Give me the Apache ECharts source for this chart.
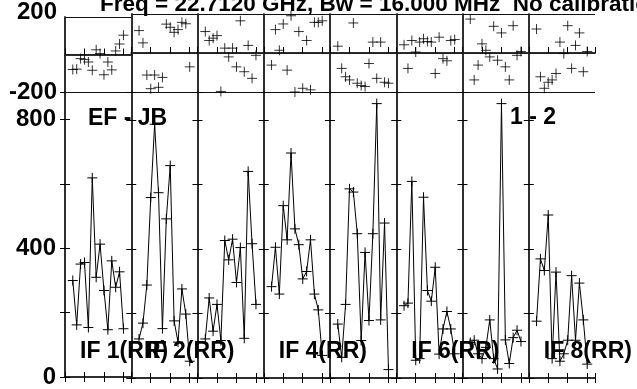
<!DOCTYPE html>
<html><head><meta charset="utf-8">
<script src="https://cdn.jsdelivr.net/npm/echarts@6/dist/echarts.min.js"></script>
<style>html,body{margin:0;padding:0;background:#fff;overflow:hidden}#c{width:637px;height:389px}</style>
</head><body><div id="c"></div>
<script>
// ---- data ----
const channels = [2, 3, 4, 5, 6, 7, 8, 9, 10, 11, 12, 13, 14, 15];
const ifNames = ['IF 1(RR)', 'IF 2(RR)', 'IF 3(RR)', 'IF 4(RR)', 'IF 5(RR)', 'IF 6(RR)', 'IF 7(RR)', 'IF 8(RR)'];
const ifLabelShown = [true, true, false, true, false, true, false, true];

const ampIF1 = [300, 162, 351, 356, 154, 619, 310, 413, 269, 147, 361, 279, 327, 150];
const ampIF2 = [121, 170, 288, 559, 786, 574, 153, 493, 658, 177, 111, 276, 198, 52];
const ampIF3 = [121, 248, 145, 228, 116, 426, 366, 430, 296, 404, 123, 640, 416, 228];
const ampIF4 = [283, 405, 260, 534, 428, 697, 462, 413, 307, 330, 428, 260, 211, 70];
const ampIF5 = [167, 64, 228, 586, 576, 447, 116, 389, 178, 447, 850, 180, 480, 26];
const ampIF6 = [224, 232, 609, 55, 60, 560, 271, 238, 343, 74, 152, 206, 152, 75];
const ampIF7 = [110, 117, 75, 60, 95, 180, 60, 28, 850, 118, 45, 125, 148, 113];
const ampIF8 = [176, 369, 333, 505, 60, 328, 52, 75, 117, 317, 117, 294, 180, 43];

const phaseIF1 = [-80, -78, -22, -27, -40, -84, 25, 5, -108, -40, -82, 19, 56, 103];
const phaseIF2 = [115, 52, -113, -183, -113, -176, -125, 148, 132, 106, 120, 157, 150, -71];
const phaseIF3 = [110, 64, 76, 89, -197, 25, -20, 25, -71, 165, -96, 39, -130, -12];
const phaseIF4 = [-62, 120, 14, 149, -88, 191, -200, 110, -181, 64, -189, 157, 157, 165];
const phaseIF5 = [35, -79, -122, -138, 154, -155, -167, -172, -54, 56, -130, 56, -150, -155];
const phaseIF6 = [42, -79, 64, 5, 56, 73, 59, 56, -105, 81, -29, -40, 64, 69];
const phaseIF7 = [174, -138, -62, 47, 14, -20, 137, -37, 103, -71, -138, 140, -12, 8];
const phaseIF8 = [123, -122, -181, -150, -138, -105, 56, -3, 140, -79, 39, 103, -96, 8];

const ampTickLabels = [0, 400, 800];
const phaseTickLabels = [-200, 200];
const baselineText = 'EF - JB';
const pairText = '1 - 2';
const titleText = 'Freq = 22.7120 GHz, Bw = 16.000 MHz  No calibration';

// ---- layout ----
const ampAll = [ampIF1, ampIF2, ampIF3, ampIF4, ampIF5, ampIF6, ampIF7, ampIF8];
const phaseAll = [phaseIF1, phaseIF2, phaseIF3, phaseIF4, phaseIF5, phaseIF6, phaseIF7, phaseIF8];
const PL = 65, PW = 66.25, PH_TOP = 14, PH_H = 78, AMP_TOP = 92, AMP_H = 286;
const AMP_MAX = 886, X_MAX = 17;
const FONT = '"Liberation Sans", Arial, Helvetica, sans-serif';
const cross = 'path://M0,5L10,5M5,0L5,10';
const lineCol = '#222';
const frameW = 1.5;

const grid = [], xAxis = [], yAxis = [], series = [];
function xAx(g, pos, inside, len) {
  xAxis.push({
    gridIndex: g, type: 'value', min: 0, max: X_MAX, interval: 5, position: pos,
    axisLine: { show: true, lineStyle: { color: lineCol, width: frameW } },
    axisTick: { show: true, inside: inside, length: len, lineStyle: { color: '#000', width: 1 } },
    axisLabel: { show: false }, splitLine: { show: false }
  });
  return xAxis.length - 1;
}
const tickFont = { color: '#000', fontFamily: FONT, fontWeight: 'bold', fontSize: 24 };
for (let i = 0; i < 8; i++) {
  const left = PL + i * PW;
  // phase grid
  grid.push({ left: left, width: PW, top: PH_TOP, height: PH_H });
  const gp = grid.length - 1;
  const xpb = xAx(gp, 'bottom', true, 5);
  xAx(gp, 'top', false, 6);
  yAxis.push({
    gridIndex: gp, type: 'value', min: -200, max: 200, interval: 200, position: 'left',
    axisLine: { show: true, lineStyle: { color: lineCol, width: frameW } },
    axisTick: { show: false },
    axisLabel: Object.assign({
      show: i === 0, margin: 8,
      formatter: v => phaseTickLabels.includes(v) ? (v > 0 ? '{up|' + v + '}' : '' + v) : '',
      rich: { up: Object.assign({ padding: [0, 0, 10, 0] }, tickFont) }
    }, tickFont),
    splitLine: { show: true, lineStyle: { color: '#111', width: 1 } }
  });
  const ypl = yAxis.length - 1;
  yAxis.push({
    gridIndex: gp, type: 'value', min: -200, max: 200, position: 'right',
    axisLine: { show: true, lineStyle: { color: lineCol, width: frameW } },
    axisTick: { show: false }, axisLabel: { show: false }, splitLine: { show: false }
  });
  series.push({
    type: 'scatter', xAxisIndex: xpb, yAxisIndex: ypl,
    data: channels.map((c, k) => [c, phaseAll[i][k]]),
    symbol: cross, symbolSize: [10, 10],
    itemStyle: { color: 'none', borderColor: '#000', borderWidth: 1 },
    silent: true, z: 5
  });
  // amplitude grid
  grid.push({ left: left, width: PW, top: AMP_TOP, height: AMP_H });
  const ga = grid.length - 1;
  const xab = xAx(ga, 'bottom', true, 5);
  xAx(ga, 'top', true, 5);
  yAxis.push({
    gridIndex: ga, type: 'value', min: 0, max: AMP_MAX, interval: 200, position: 'left',
    axisLine: { show: true, lineStyle: { color: lineCol, width: frameW } },
    axisTick: { show: true, inside: true, length: 5, lineStyle: { color: '#000', width: 1 } },
    axisLabel: Object.assign({
      show: i === 0, margin: 9, showMaxLabel: false,
      formatter: v => ampTickLabels.includes(v) ? '' + v : ''
    }, tickFont),
    splitLine: { show: false }
  });
  const yal = yAxis.length - 1;
  yAxis.push({
    gridIndex: ga, type: 'value', min: 0, max: AMP_MAX, interval: 200, position: 'right',
    axisLine: { show: true, lineStyle: { color: lineCol, width: frameW } },
    axisTick: { show: true, inside: true, length: 5, lineStyle: { color: '#000', width: 1 } },
    axisLabel: { show: false }, splitLine: { show: false }
  });
  series.push({
    type: 'line', xAxisIndex: xab, yAxisIndex: yal,
    data: channels.map((c, k) => [c, ampAll[i][k]]),
    symbol: cross, symbolSize: [10, 10], showAllSymbol: true,
    itemStyle: { color: 'none', borderColor: '#000', borderWidth: 1 },
    lineStyle: { color: '#000', width: 1 },
    silent: true, z: 5
  });
}

const textStyleBig = { fill: '#000', font: 'bold 23px ' + FONT, verticalAlign: 'middle' };
const graphic = [
  { type: 'text', left: 100, top: -7, z: 100, style: { text: titleText, fill: '#000', font: 'bold 22.5px ' + FONT } },
  { type: 'text', x: 88, y: 119, z: 100, style: Object.assign({ text: baselineText }, textStyleBig) },
  { type: 'text', x: 510, y: 118, z: 100, style: Object.assign({ text: pairText }, textStyleBig) }
];
ifNames.forEach((n, i) => {
  if (ifLabelShown[i]) graphic.push({ type: 'text', x: PL + 15 + i * PW, y: 352, z: 100, style: Object.assign({ text: n }, textStyleBig) });
});

const chart = echarts.init(document.getElementById('c'), null, { renderer: 'canvas' });
chart.setOption({
  animation: false, backgroundColor: '#fff',
  grid: grid, xAxis: xAxis, yAxis: yAxis, series: series, graphic: graphic
});
</script></body></html>
